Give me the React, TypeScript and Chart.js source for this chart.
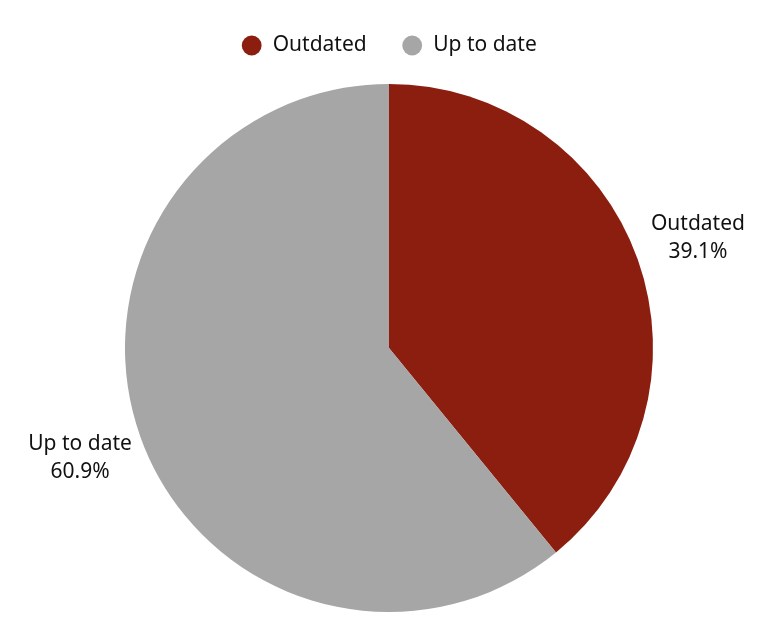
import { useEffect, useRef } from 'react';
import { Chart, registerables } from 'chart.js';

Chart.register(...registerables);

const categories = ['Outdated', 'Up to date'];
const shares = [39.1, 60.9];
const colors = ['#8B1E0F', '#A6A6A6'];

const FONT = '"Noto Sans", "Open Sans", sans-serif';

// draws "name / pct%" outside each slice
const outsideLabels = {
  id: 'outsideLabels',
  afterDatasetsDraw(chart: any) {
    const ctx = chart.ctx;
    const meta = chart.getDatasetMeta(0);
    ctx.save();
    ctx.font = `21px ${FONT}`;
    ctx.fillStyle = '#111';
    ctx.textAlign = 'center';
    ctx.textBaseline = 'middle';
    meta.data.forEach((arc: any, i: number) => {
      const mid = (arc.startAngle + arc.endAngle) / 2;
      const r = arc.outerRadius + 64;
      const x = arc.x + Math.cos(mid) * r;
      const y = arc.y + Math.sin(mid) * r;
      ctx.fillText(categories[i], x, y - 14);
      ctx.fillText(`${shares[i]}%`, x, y + 14);
    });
    ctx.restore();
  },
};

export default function App() {
  const canvasRef = useRef<HTMLCanvasElement>(null);

  useEffect(() => {
    if (!canvasRef.current) return;
    const chart = new Chart(canvasRef.current, {
      type: 'pie',
      data: {
        labels: categories,
        datasets: [{
          data: shares,
          backgroundColor: colors,
          borderWidth: 0,
        }],
      },
      options: {
        responsive: true,
        maintainAspectRatio: false,
        animation: false,
        layout: { padding: { top: 0, bottom: 7, left: 125, right: 114 } },
        plugins: {
          legend: {
            position: 'top',
            labels: {
              usePointStyle: true,
              pointStyle: 'circle',
              boxHeight: 14,
              padding: 35,
              color: '#111',
              font: { family: FONT, size: 21 },
            },
          },
          tooltip: { enabled: false },
        },
      },
      plugins: [outsideLabels],
    } as any);
    return () => { chart.destroy(); };
  }, []);

  return (
    <div style={{ position: 'fixed', left: 0, top: 0, width: 767, height: 637, background: '#fff' }}>
      <canvas ref={canvasRef} />
    </div>
  );
}
